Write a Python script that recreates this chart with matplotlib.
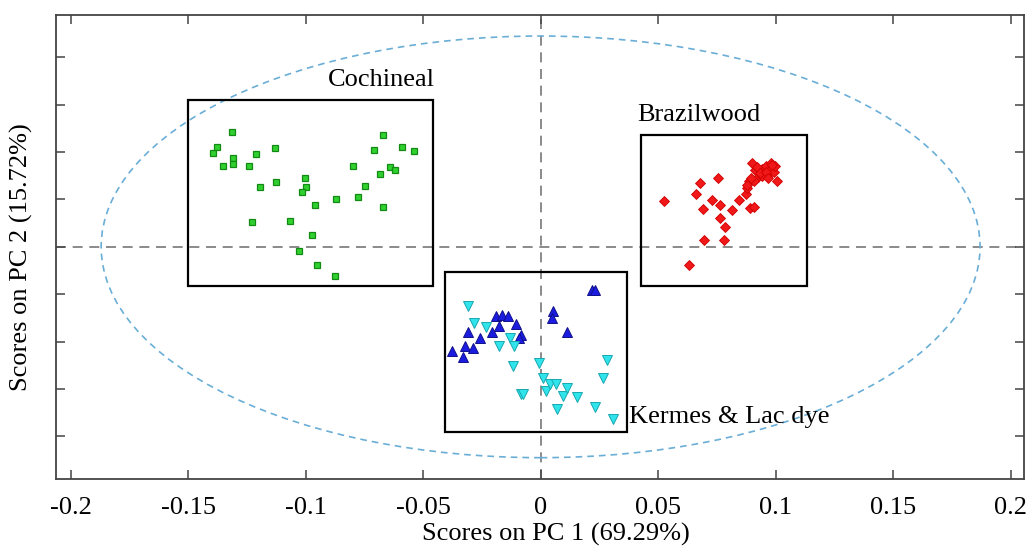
import matplotlib
matplotlib.use("Agg")
import matplotlib.pyplot as plt
from matplotlib.patches import Ellipse, Rectangle

plt.rcParams['font.family'] = ['Liberation Serif', 'DejaVu Serif']

# ---------- PCA scores ----------
coch_x = [-0.1392, -0.1378, -0.1314, -0.1350, -0.1310, -0.1307, -0.1242, -0.1209, -0.1131,
          -0.1195, -0.1128, -0.1226, -0.1066, -0.1002, -0.0999, -0.1014, -0.0958, -0.0972,
          -0.1026, -0.0952, -0.0874, -0.0869, -0.0797, -0.0778, -0.0747, -0.0709, -0.0672,
          -0.0683, -0.0639, -0.0618, -0.0591, -0.0537, -0.0672]
coch_y = [0.0396, 0.0423, 0.0485, 0.0342, 0.0376, 0.0351, 0.0340, 0.0392, 0.0419,
          0.0254, 0.0273, 0.0103, 0.0109, 0.0292, 0.0251, 0.0233, 0.0178, 0.0052,
          -0.0018, -0.0075, -0.0124, 0.0202, 0.0342, 0.0210, 0.0257, 0.0409, 0.0472,
          0.0306, 0.0337, 0.0323, 0.0420, 0.0405, 0.0169]

braz_x = [0.0526, 0.0631, 0.0660, 0.0680, 0.0693, 0.0697, 0.0728, 0.0754, 0.0764, 0.0765,
          0.0784, 0.0780, 0.0816, 0.0846, 0.0872, 0.0877, 0.0891, 0.0909, 0.0886, 0.0900,
          0.0913, 0.0927, 0.0906, 0.0941, 0.0951, 0.0965, 0.0960, 0.0980, 0.0974, 0.0991,
          0.0997, 0.1005, 0.0941, 0.0920, 0.0935, 0.0958, 0.0985, 0.0895, 0.0880, 0.0968]
braz_y = [0.0193, -0.0076, 0.0223, 0.0269, 0.0161, 0.0027, 0.0197, 0.0292, 0.0175, 0.0123,
          0.0085, 0.0027, 0.0155, 0.0199, 0.0224, 0.0249, 0.0165, 0.0169, 0.0276, 0.0354,
          0.0323, 0.0295, 0.0276, 0.0328, 0.0309, 0.0300, 0.0342, 0.0356, 0.0323, 0.0314,
          0.0340, 0.0278, 0.0300, 0.0335, 0.0310, 0.0318, 0.0345, 0.0290, 0.0262, 0.0290]

kermes_x = [-0.0378, -0.0331, -0.0321, -0.0286, -0.0307, -0.0260, -0.0208, -0.0191, -0.0163,
            -0.0140, -0.0177, -0.0104, -0.0083, -0.0091, 0.0052, 0.0048, 0.0111, 0.0218, 0.0232]
kermes_y = [-0.0440, -0.0464, -0.0417, -0.0426, -0.0358, -0.0383, -0.0361, -0.0290, -0.0287,
            -0.0290, -0.0334, -0.0327, -0.0372, -0.0383, -0.0271, -0.0299, -0.0358, -0.0181, -0.0181]

lac_x = [-0.0311, -0.0283, -0.0233, -0.0175, -0.0130, -0.0113, -0.0118, -0.0083, -0.0076,
         -0.0009, 0.0009, 0.0023, 0.0040, 0.0065, 0.0071, 0.0097, 0.0111, 0.0154, 0.0233,
         0.0267, 0.0282, 0.0310]
lac_y = [-0.0248, -0.0323, -0.0337, -0.0417, -0.0386, -0.0419, -0.0503, -0.0623, -0.0623,
         -0.0490, -0.0553, -0.0608, -0.0581, -0.0581, -0.0686, -0.0629, -0.0595, -0.0633,
         -0.0675, -0.0555, -0.0479, -0.0727]

xticks = [-0.2, -0.15, -0.1, -0.05, 0, 0.05, 0.1, 0.15, 0.2]
xtick_labels = ['-0.2', '-0.15', '-0.1', '-0.05', '0', '0.05', '0.1', '0.15', '0.2']
yticks = [-0.08, -0.06, -0.04, -0.02, 0, 0.02, 0.04, 0.06, 0.08]

# group boxes: (x0, y0, x1, y1)
boxes = {
    'Cochineal': (-0.150, -0.0164, -0.046, 0.0622),
    'Brazilwood': (0.0426, -0.0164, 0.1133, 0.0472),
    'Kermes & Lac dye': (-0.0405, -0.0781, 0.0367, -0.0107),
}

# ---------- Plot ----------
fig = plt.figure(figsize=(10.3, 5.51), dpi=100)
ax = fig.add_axes([0.0544, 0.1307, 0.9398, 0.8426])

ax.axhline(0, color='#777777', lw=1.2, ls=(0, (6, 4)), zorder=1)
ax.axvline(0, color='#777777', lw=1.2, ls=(0, (6, 4)), zorder=1)
ax.add_patch(Ellipse((0, 0), 2 * 0.187, 2 * 0.089, fill=False, ec='#6aaed6',
                     lw=1.2, ls=(0, (4, 3)), zorder=1))

for name, (x0, y0, x1, y1) in boxes.items():
    ax.add_patch(Rectangle((x0, y0), x1 - x0, y1 - y0, fill=False, ec='black', lw=1.6, zorder=2))

ax.plot(coch_x, coch_y, 's', ms=4.6, mfc='#2fd02f', mec='#138a13', mew=0.9, zorder=3)
ax.plot(braz_x, braz_y, 'D', ms=5.5, mfc='#f01818', mec='#d00000', mew=0.6, zorder=3)
ax.plot(kermes_x, kermes_y, '^', ms=7.4, mfc='#1c1ce0', mec='#10108a', mew=0.7, zorder=3)
ax.plot(lac_x, lac_y, 'v', ms=7.4, mfc='#30e4ec', mec='#18a8b0', mew=0.7, zorder=3)

ax.text(-0.0679, 0.0706, 'Cochineal', fontsize=19, ha='center', va='center')
ax.text(0.0673, 0.0558, 'Brazilwood', fontsize=19, ha='center', va='center')
ax.text(0.0378, -0.0718, 'Kermes & Lac dye', fontsize=19, ha='left', va='center')

ax.set_xlim(-0.2062, 0.2057)
ax.set_ylim(-0.098, 0.098)
ax.set_xticks(xticks)
ax.set_xticklabels(xtick_labels)
ax.set_yticks(yticks)
ax.set_yticklabels([])
ax.tick_params(direction='in', length=6.5, width=1.1, color='#444444',
               top=True, right=True, labelsize=19, pad=13)
for s in ax.spines.values():
    s.set_color('#444444')
    s.set_linewidth(1.3)

ax.set_xlabel('Scores on PC 1 (69.29%)', fontsize=19)
ax.set_ylabel('Scores on PC 2 (15.72%)', fontsize=19)
ax.xaxis.set_label_coords(0.5165, -0.095)
ax.yaxis.set_label_coords(-0.024, 0.478)

fig.savefig('out.png', dpi=100)
